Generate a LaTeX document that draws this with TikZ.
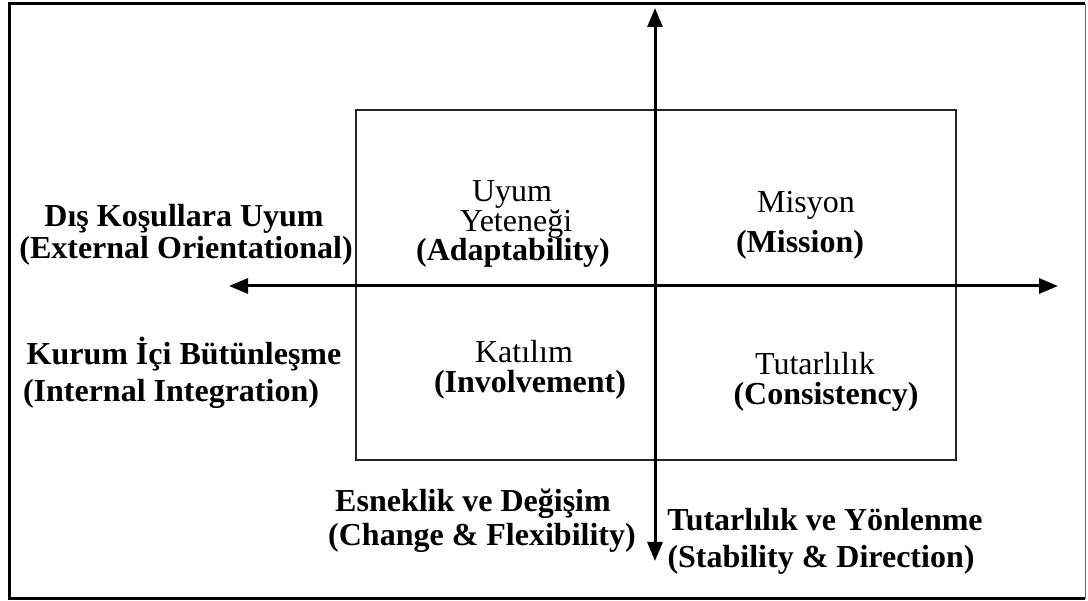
\documentclass[tikz,border=0pt]{standalone}
\usepackage{fontspec}
\setmainfont{Liberation Serif}
\usetikzlibrary{arrows.meta}
\tikzset{
  lbl/.style={anchor=base, inner sep=0pt, font=\fontsize{32}{32}\selectfont\bfseries},
  qtxt/.style={anchor=base, inner sep=0pt, font=\fontsize{32}{32}\selectfont},
  axis/.style={line width=3pt, -{Triangle[length=19pt,width=15pt]}},
  quad/.style={draw=black!85, line width=2pt},
}
\begin{document}
\begin{tikzpicture}[x=1pt,y=-1pt]
\useasboundingbox (0,0) rectangle (1088,601);
% outer frame
\draw[line width=3pt] (1085,4) -- (9.5,4) -- (9.5,598.5) -- (1085,598.5);
\draw[line width=1pt, black!60] (1085,4) -- (1085,598.5);
% inner rectangle
\draw[quad] (356,110) rectangle (955.5,460);
% axes
\coordinate (c) at (655,286);
\coordinate (top) at (655,8);
\coordinate (bot) at (655,561);
\coordinate (lft) at (229,286);
\coordinate (rgt) at (1058,286);
\draw[axis] (c) -- (top);
\draw[axis] (c) -- (bot);
\draw[axis] (c) -- (lft);
\draw[axis] (c) -- (rgt);
% left labels
\node[lbl] (ext1) at (184,227) {Dış Koşullara Uyum};
\node[lbl] (ext2) at (186,259) {(External Orientational)};
\node[lbl] (int1) at (184,365) {Kurum İçi Bütünleşme};
\node[lbl] (int2) at (171,402) {(Internal Integration)};
% quadrant labels
\node[qtxt] (ad1) at (512,202) {Uyum};
\node[qtxt] (ad2) at (516,232) {Yeteneği};
\node[lbl]  (ad3) at (513,261) {(Adaptability)};
\node[qtxt] (mi1) at (806,213) {Misyon};
\node[lbl]  (mi2) at (800,253) {(Mission)};
\node[qtxt] (in1) at (524,363) {Katılım};
\node[lbl]  (in2) at (530,393) {(Involvement)};
\node[qtxt] (co1) at (815,375) {Tutarlılık};
\node[lbl]  (co2) at (826,405) {(Consistency)};
% bottom labels
\node[lbl] (ch1) at (473,512) {Esneklik ve Değişim};
\node[lbl] (ch2) at (482,546) {(Change \& Flexibility)};
\node[lbl] (st1) at (825,531) {Tutarlılık ve Yönlenme};
\node[lbl] (st2) at (821,568) {(Stability \& Direction)};
\end{tikzpicture}
\end{document}
